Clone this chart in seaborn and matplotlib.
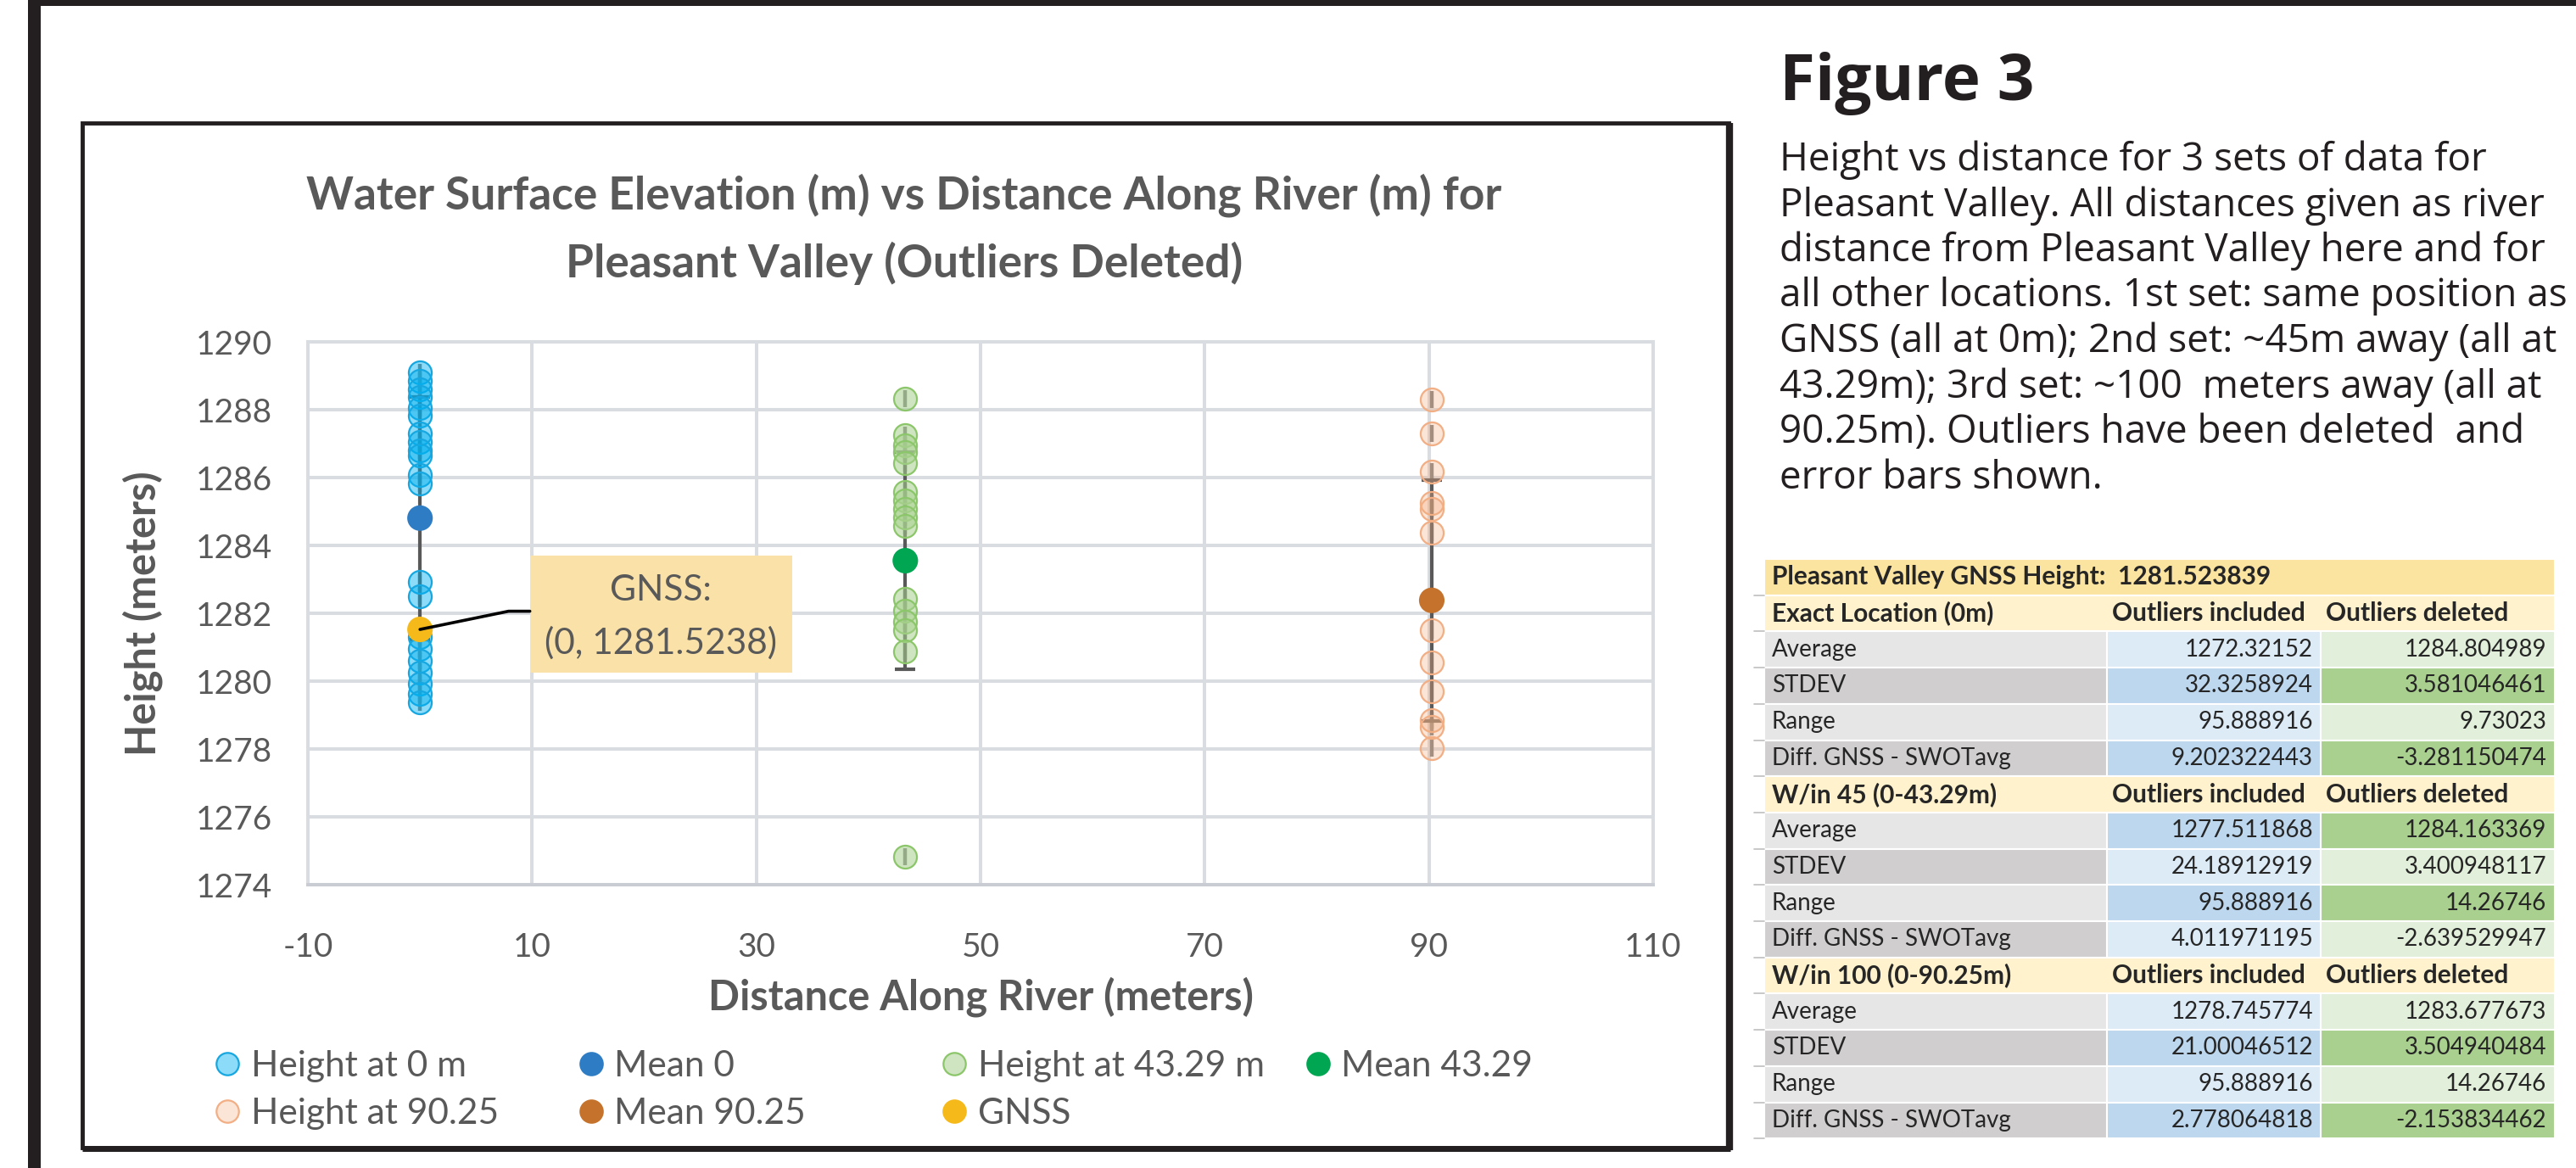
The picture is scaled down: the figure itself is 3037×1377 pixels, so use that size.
import matplotlib
matplotlib.use("Agg")
import matplotlib.pyplot as plt
import seaborn as sns
import pandas as pd
from matplotlib.patches import Rectangle
from matplotlib.lines import Line2D

# ---------------- chart data ----------------
dist_0m = 0.0
dist_43m = 43.29
dist_90m = 90.25

heights_0m = [1289.10, 1288.85, 1288.60, 1288.38, 1288.05, 1287.83, 1287.30, 1287.05,
              1286.80, 1286.65, 1286.08, 1285.83, 1282.92, 1282.50, 1281.30, 1280.95,
              1280.60, 1280.25, 1279.92, 1279.63, 1279.37]
heights_43m = [1288.33, 1287.25, 1286.95, 1286.75, 1286.42, 1285.58, 1285.33, 1285.08,
               1284.83, 1284.58, 1282.42, 1282.08, 1281.75, 1281.50, 1280.88, 1274.83]
heights_90m = [1288.29, 1287.29, 1286.17, 1285.25, 1285.08, 1284.37, 1281.50, 1280.54,
               1279.71, 1278.85, 1278.65, 1278.03]

series_labels = ["Height at 0 m", "Height at 43.29 m", "Height at 90.25"]
mean_labels = ["Mean 0", "Mean 43.29", "Mean 90.25"]
mean_dist = [0.0, 43.29, 90.25]
mean_heights = [1284.804989, 1283.55, 1282.38]
mean_err = [3.581046461, 3.20, 3.55]
point_err = 0.25

gnss_label = "GNSS"
gnss_dist = 0.0
gnss_height = 1281.523839

x_ticks = [-10, 10, 30, 50, 70, 90, 110]
y_ticks = [1274, 1276, 1278, 1280, 1282, 1284, 1286, 1288, 1290]

chart_title = ["Water Surface Elevation (m) vs Distance Along River (m) for",
               "Pleasant Valley (Outliers Deleted)"]
x_title = "Distance Along River (meters)"
y_title = "Height (meters)"

# ---------------- caption & summary table ----------------
fig_heading = "Figure 3"
caption_lines = [
    "Height vs distance for 3 sets of data for",
    "Pleasant Valley. All distances given as river",
    "distance from Pleasant Valley here and for",
    "all other locations. 1st set: same position as",
    "GNSS (all at 0m); 2nd set: ~45m away (all at",
    "43.29m); 3rd set: ~100  meters away (all at",
    "90.25m). Outliers have been deleted  and",
    "error bars shown.",
]
table_title = "Pleasant Valley GNSS Height:  1281.523839"
section_titles = ["Exact Location (0m)", "W/in 45 (0-43.29m)", "W/in 100 (0-90.25m)"]
stat_names = ["Average", "STDEV", "Range", "Diff. GNSS - SWOTavg"]
col_heads = ["Outliers included", "Outliers deleted"]
outliers_included = [
    ["1272.32152", "32.3258924", "95.888916", "9.202322443"],
    ["1277.511868", "24.18912919", "95.888916", "4.011971195"],
    ["1278.745774", "21.00046512", "95.888916", "2.778064818"],
]
outliers_deleted = [
    ["1284.804989", "3.581046461", "9.73023", "-3.281150474"],
    ["1284.163369", "3.400948117", "14.26746", "-2.639529947"],
    ["1283.677673", "3.504940484", "14.26746", "-2.153834462"],
]
value_shading = [[0, 1, 0, 1], [1, 0, 1, 0], [0, 1, 0, 1]]

# ---------------- styling ----------------
sns.set_style("white")
plt.rcParams["font.family"] = ["Lato", "DejaVu Sans"]
plt.rcParams["axes.unicode_minus"] = False
TXT = "#595959"
GRID = "#D9DCE1"

W, H = 3037, 1377
fig = plt.figure(figsize=(W / 100, H / 100), dpi=100)
fig.patch.set_facecolor("white")

# page layer in pixel units
page = fig.add_axes([0, 0, 1, 1], zorder=0)
page.set_xlim(0, W)
page.set_ylim(H, 0)
page.axis("off")

# outer frame
page.add_patch(Rectangle((33, 0), W - 33, 7, color="#231F20", lw=0))
page.add_patch(Rectangle((33, 0), 15, H, color="#231F20", lw=0))

# chart frame
page.add_patch(Rectangle((97, 145), 2038 - 97, 1353 - 145, facecolor="white",
                         edgecolor="#231F20", lw=3.5))
page.plot([97, 2040], [1354, 1354], color="#231F20", lw=5, solid_capstyle="butt")
page.plot([2039, 2039], [145, 1356], color="#231F20", lw=6, solid_capstyle="butt")

for i, line in enumerate(chart_title):
    page.text(1066, 247 + 80 * i, line, ha="center", va="baseline", fontsize=38.3,
              fontweight="bold", color=TXT)

# ---------------- plot ----------------
ax = fig.add_axes([363 / W, 1 - 1043 / H, (1949 - 363) / W, (1043 - 403) / H], zorder=2)
ax.set_facecolor("white")

frames = []
for lab, d, hs in zip(series_labels, [dist_0m, dist_43m, dist_90m],
                      [heights_0m, heights_43m, heights_90m]):
    frames.append(pd.DataFrame({"series": lab, "distance": d, "height": hs}))
points = pd.concat(frames, ignore_index=True)

point_style = {
    "Height at 0 m": ((0.0, 0.69, 0.94, 0.45), "#17A7E0"),
    "Height at 43.29 m": ((0.66, 0.82, 0.56, 0.55), "#8CC66A"),
    "Height at 90.25": ((0.96, 0.69, 0.51, 0.32), "#F2AE84"),
}
mean_colors = ["#2E7CC4", "#00A651", "#C5732C"]
gnss_color = "#F5B91A"

# short bars through every reading
ax.errorbar(points["distance"], points["height"], yerr=point_err, fmt="none",
            ecolor="#7F7F7F", elinewidth=3.2, capsize=0, zorder=3)
# one-sigma bars about each mean
ax.errorbar(mean_dist, mean_heights, yerr=mean_err, fmt="none", ecolor=TXT,
            elinewidth=3.0, capsize=8.5, capthick=3.0, zorder=3)

for lab, (face, edge) in point_style.items():
    sns.scatterplot(data=points[points["series"] == lab], x="distance", y="height",
                    color=face, edgecolor=edge, linewidth=1.6, s=380, ax=ax,
                    legend=False, zorder=4)

means = pd.DataFrame({"label": mean_labels, "distance": mean_dist, "height": mean_heights})
sns.scatterplot(data=means, x="distance", y="height", hue="label",
                palette=dict(zip(mean_labels, mean_colors)), edgecolor="none",
                s=470, ax=ax, legend=False, zorder=5)
sns.scatterplot(x=[gnss_dist], y=[gnss_height], color=gnss_color, edgecolor="none",
                s=470, ax=ax, legend=False, zorder=6)

# GNSS call-out
ax.add_patch(Rectangle((9.8, 1280.25), 23.4, 3.45, facecolor="#FAE1A7",
                       edgecolor="none", zorder=6))
ax.text(21.5, 1282.68, f"{gnss_label}:", ha="center", va="center", fontsize=30.5,
        color=TXT, zorder=7)
ax.text(21.5, 1281.12, f"({gnss_dist:.0f}, {gnss_height:.4f})", ha="center",
        va="center", fontsize=30.5, color=TXT, zorder=7)
ax.plot([gnss_dist, 7.9, 9.8], [gnss_height, 1282.06, 1282.06], color="black",
        lw=2.6, zorder=7, solid_capstyle="round")

ax.set_xlim(-10, 110)
ax.set_ylim(1274, 1290)
ax.set_xticks(x_ticks)
ax.set_yticks(y_ticks)
ax.grid(True, color=GRID, lw=2.9)
ax.set_axisbelow(True)
for sp in ax.spines.values():
    sp.set_color(GRID)
    sp.set_linewidth(2.9)
ax.spines["bottom"].set_color("#C9CDD3")
ax.tick_params(axis="both", length=0, labelsize=28, labelcolor=TXT)
ax.tick_params(axis="x", pad=40)
ax.tick_params(axis="y", pad=30)

ax.set_xlabel(x_title, fontsize=35, fontweight="bold", color=TXT)
ax.set_ylabel(y_title, fontsize=35, fontweight="bold", color=TXT)
ax.xaxis.set_label_coords(0.5, (1043 - 1175) / 640)
ax.xaxis.label.set_va("center")
ax.yaxis.set_label_coords((168 - 363) / 1586, 0.5)
ax.yaxis.label.set_va("center")

# legend laid out in four equal columns
def handle(face, edge):
    return Line2D([], [], ls="", marker="o", ms=19, mfc=face, mec=edge, mew=1.6)

legend_cols = [
    [(series_labels[0], handle(*point_style[series_labels[0]])),
     (series_labels[2], handle(*point_style[series_labels[2]]))],
    [(mean_labels[0], handle(mean_colors[0], mean_colors[0])),
     (mean_labels[2], handle(mean_colors[2], mean_colors[2]))],
    [(series_labels[1], handle(*point_style[series_labels[1]])),
     (gnss_label, handle(gnss_color, gnss_color))],
    [(mean_labels[1], handle(mean_colors[1], mean_colors[1]))],
]
fs_leg = 30.5
for k, col in enumerate(legend_cols):
    mx = 268 + 428.5 * k
    left = mx - 0.35 * fs_leg * 100 / 72
    fig.legend([h for _, h in col], [t for t, _ in col], loc="upper left",
               bbox_to_anchor=(left / W, 1 - 1238 / H), frameon=False,
               fontsize=fs_leg, labelcolor=TXT, handlelength=0.7,
               handletextpad=0.3, borderpad=0, borderaxespad=0, labelspacing=0.42)

# ---------------- caption ----------------
page.text(2098, 118, fig_heading, fontsize=55, fontweight="bold", family="Open Sans",
          color="#231F20", va="baseline")
for i, line in enumerate(caption_lines):
    page.text(2098, 201 + 53.5 * i, line, fontsize=33.0, family="Open Sans",
              color="#231F20", va="baseline")

# ---------------- summary table ----------------
col_x = [2080, 2484, 2736, 3012]
top, rh = 659, 42.7
fs_t = 20
fs_b = 21.5
gray = ["#E7E6E6", "#D0CECE"]
blue = ["#DDEBF7", "#BDD7EE"]
green = ["#E2EFDA", "#A9D08E"]

def cell(r, c0, c1, color):
    page.add_patch(Rectangle((col_x[c0], top + r * rh), col_x[c1] - col_x[c0], rh,
                             facecolor=color, edgecolor="white", lw=1.5))

def row_y(r):
    return top + (r + 0.5) * rh

cell(0, 0, 3, "#FBE3A0")
page.text(2089, row_y(0), table_title, fontsize=fs_b, fontweight="bold", va="center")
for s in range(3):
    r = 1 + 5 * s
    cell(r, 0, 3, "#FFF2CC")
    page.text(2089, row_y(r), section_titles[s], fontsize=fs_b, fontweight="bold", va="center")
    page.text(2490, row_y(r), col_heads[0], fontsize=fs_b, fontweight="bold", va="center")
    page.text(2742, row_y(r), col_heads[1], fontsize=fs_b, fontweight="bold", va="center")
    for j in range(4):
        rr = r + 1 + j
        cell(rr, 0, 1, gray[j % 2])
        cell(rr, 1, 2, blue[value_shading[s][j]])
        cell(rr, 2, 3, green[value_shading[s][j]])
        page.text(2089, row_y(rr), stat_names[j], fontsize=fs_t, va="center")
        page.text(2727, row_y(rr), outliers_included[s][j], fontsize=fs_t, ha="right", va="center")
        page.text(3002, row_y(rr), outliers_deleted[s][j], fontsize=fs_t, ha="right", va="center")
for r in range(1, 17):
    page.plot([2068, 2080], [top + r * rh] * 2, color="#BFBFBF", lw=1.2)

fig.savefig("out.png", dpi=100, facecolor="white")
